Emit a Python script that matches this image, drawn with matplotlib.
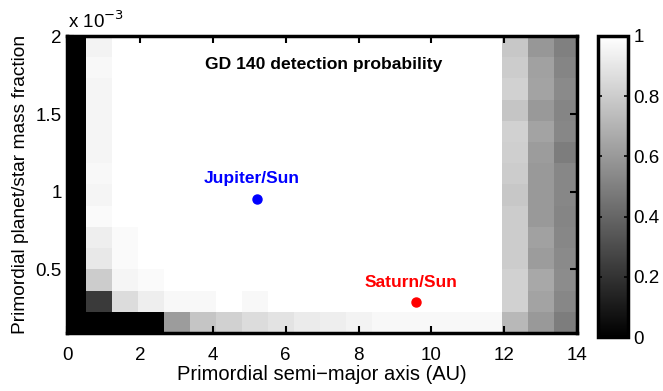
import numpy as np
import matplotlib
matplotlib.use("Agg")
import matplotlib.pyplot as plt
from matplotlib.ticker import FuncFormatter

plt.rcParams['font.family'] = ['Liberation Sans', 'DejaVu Sans']

# grid centres (AU and planet/star mass fraction)
a_centers = [0.157, 0.871, 1.586, 2.300, 3.014, 3.729, 4.443, 5.157, 5.871, 6.586,
             7.300, 8.014, 8.729, 9.443, 10.157, 10.871, 11.586, 12.300, 13.014, 13.729]
q_centers = [0.158e-3, 0.295e-3, 0.431e-3, 0.568e-3, 0.704e-3, 0.841e-3, 0.977e-3,
             1.114e-3, 1.250e-3, 1.387e-3, 1.523e-3, 1.660e-3, 1.796e-3, 1.933e-3]

W = 1.0
# detection probability, rows listed from top (largest mass fraction) to bottom
prob_rows_top_down = [
    [0, .95] + [W]*15 + [.78, .59, .50],
    [0, .97] + [W]*15 + [.80, .63, .52],
    [0, .96] + [W]*15 + [.82, .64, .54],
    [0, .96] + [W]*15 + [.77, .60, .52],
    [0, .96] + [W]*15 + [.82, .64, .53],
    [0, .96] + [W]*15 + [.81, .61, .49],
    [0, .97] + [W]*15 + [.80, .60, .53],
    [0, .96] + [W]*15 + [.78, .60, .53],
    [0, .98] + [W]*15 + [.80, .60, .52],
    [0, .93, .98] + [W]*14 + [.80, .63, .53],
    [0, .91, .98] + [W]*14 + [.80, .61, .54],
    [0, .80, .96, .98] + [W]*13 + [.82, .66, .55],
    [0, .23, .86, .93, .97, .97, W, .97] + [W]*9 + [.82, .64, .53],
    [0, 0, 0, 0, .61, .77, .82, .86, .89, .92, .93, .95, .97, .97, .97, .97, .97, .72, .60, .49],
]

planet_names = ["Jupiter/Sun", "Saturn/Sun"]
planet_a = [5.20, 9.58]
planet_q = [0.954e-3, 0.286e-3]
planet_colors = ["#0000ff", "#ff0000"]

Z = np.array(prob_rows_top_down)[::-1]
ax_ = np.array(a_centers)
q_ = np.array(q_centers)
dx = ax_[1] - ax_[0]
dy = q_[1] - q_[0]

fig = plt.figure(figsize=(6.63, 3.91), dpi=100)
ax = fig.add_axes([67.3/663, 1-333/391, (577-67.3)/663, (333-36.4)/391])
im = ax.imshow(Z, extent=[ax_[0]-dx/2, ax_[-1]+dx/2, q_[0]-dy/2, q_[-1]+dy/2],
               origin='lower', aspect='auto', cmap='gray', vmin=0, vmax=1,
               interpolation='nearest')
ax.set_xlim(0, 14)
ax.set_ylim(q_[0]-dy/2, 2e-3)
ax.set_xticks([0, 2, 4, 6, 8, 10, 12, 14])
ax.set_yticks([0.5e-3, 1e-3, 1.5e-3, 2e-3])
ax.yaxis.set_major_formatter(FuncFormatter(lambda v, p: f"{v*1e3:g}"))
ax.tick_params(direction='in', length=5, width=1.5, top=True, right=True,
               labelsize=13.5)
ax.tick_params(axis='x', pad=10)
ax.tick_params(axis='y', pad=4)
for s in ax.spines.values():
    s.set_linewidth(2.5)
ax.set_xlabel("Primordial semi\u2212major axis (AU)", fontsize=14.5, labelpad=1)
ax.set_ylabel("Primordial planet/star mass fraction", fontsize=13.8, labelpad=5)
fig.text(68/663, 1-28/391, r"x 10$^{-3}$", fontsize=13.5, ha='left', va='baseline')

ax.text(7.04, 1.819e-3, "GD 140 detection probability", fontsize=12.6,
        fontweight='bold', ha='center', va='center')
for name, a, q, c in zip(planet_names, planet_a, planet_q, planet_colors):
    ax.plot([a], [q], 'o', color=c, markersize=6.5)
    ax.text(a - 0.14, q + 0.132e-3, name, color=c, fontsize=12.5, fontweight='bold',
            ha='center', va='center')

cax = fig.add_axes([598/663, 1-337/391, 30/663, (337-36)/391])
cb = fig.colorbar(im, cax=cax, ticks=[0, 0.2, 0.4, 0.6, 0.8, 1])
cb.ax.set_yticklabels(["0", "0.2", "0.4", "0.6", "0.8", "1"])
cb.ax.tick_params(direction='in', length=3, width=1.2, left=True, right=True,
                  labelsize=13.5, pad=4)
cb.outline.set_linewidth(2.5)

fig.savefig("out.png", dpi=100)
